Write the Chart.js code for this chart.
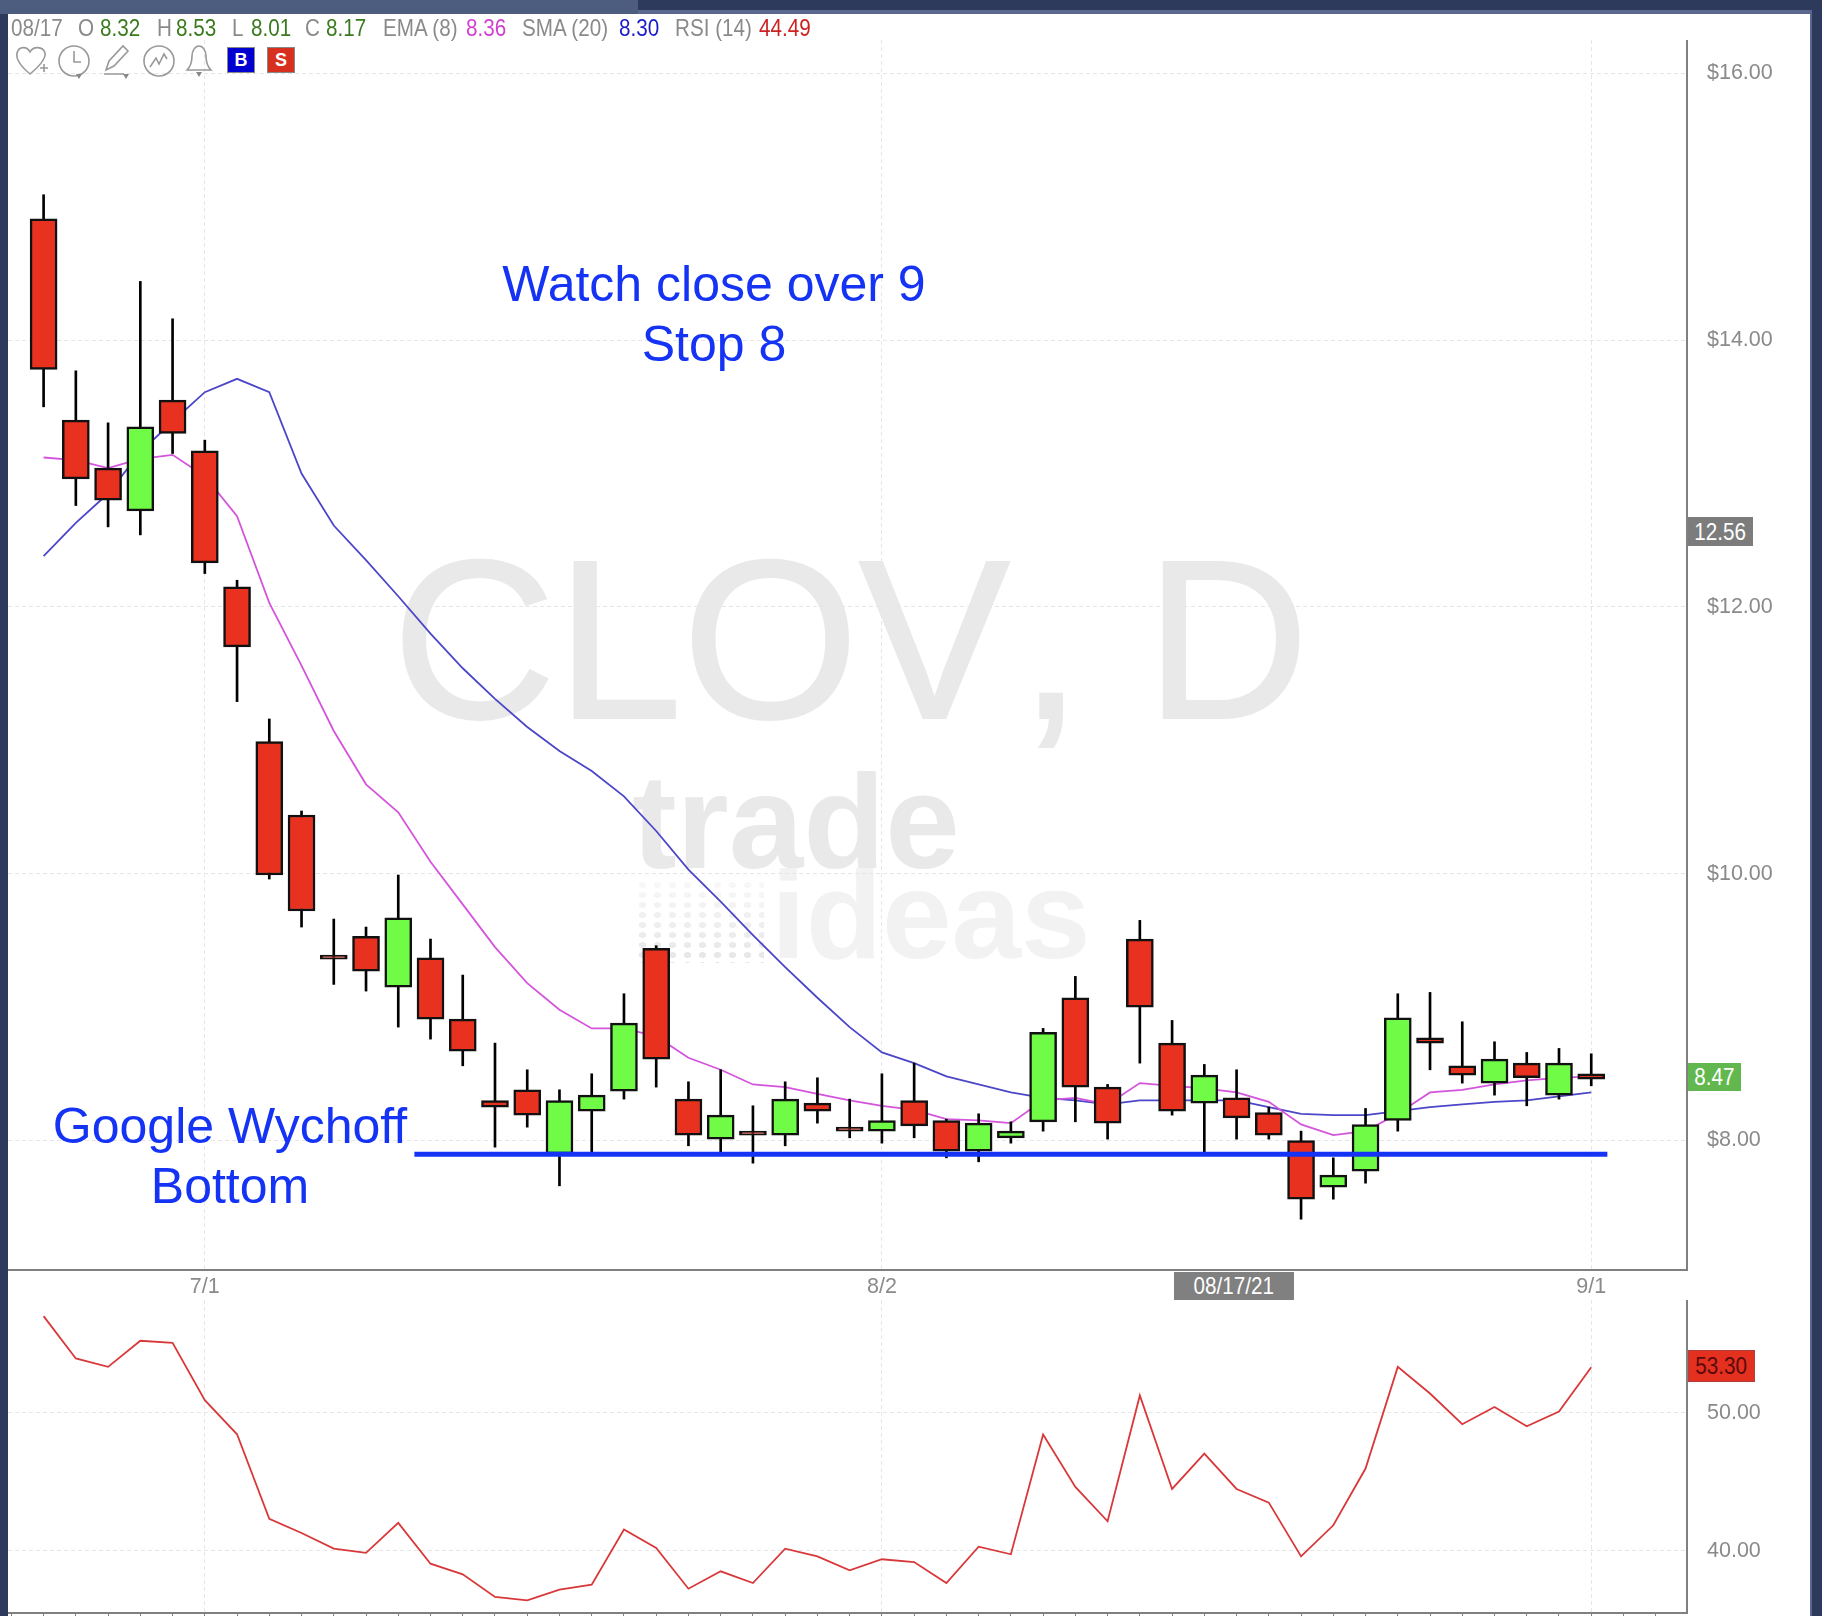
<!DOCTYPE html>
<html>
<head>
<meta charset="utf-8">
<title>CLOV, D</title>
<script src="https://cdn.jsdelivr.net/npm/chart.js@4/dist/chart.umd.js"></script>
<style>
  html, body { margin: 0; padding: 0; background: #fff; }
  #page { position: relative; width: 1822px; height: 1616px; overflow: hidden; background: #fff; font-family: "Liberation Sans", sans-serif; }
  #page canvas { position: absolute; left: 8px; }
  .strip { position: absolute; background: #2d3a5c; }
  .hdr { position: absolute; top: 13px; font-size: 24px; line-height: 30px; color: #8a8a8a; white-space: nowrap; transform: scaleX(.86); transform-origin: left center; }
  .note { position: absolute; font-size: 50px; line-height: 60px; color: #1433f5; text-align: center; white-space: nowrap; }
  .mark { position: absolute; white-space: nowrap; }
  .tag { position: absolute; text-align: center; color: #fff; box-sizing: border-box; }
  .tag span { display: inline-block; font-size: 24px; transform: scaleX(.86); }
  .btn { position: absolute; top: 47px; width: 28px; height: 26px; font: bold 18px/24px "Liberation Sans", sans-serif; color: #fff; text-align: center; box-sizing: border-box; border: 1px solid #888; }
  #icons { position: absolute; left: 14px; top: 44px; }
</style>
</head>
<body>
<div id="page">
  <div class="mark" style="left:392px;top:500px;font-size:227px;line-height:280px;color:#e9e9e9;-webkit-text-stroke:2px #e9e9e9">CLOV<span style="margin-left:9px">,</span> D</div>
  <div class="mark" style="left:632px;top:757px;font-size:134px;line-height:130px;font-weight:bold;color:#e9e9e9">trade</div>
  <div class="mark" style="left:771px;top:850px;font-size:125px;line-height:130px;font-weight:bold;color:#f2f2f2">ideas</div>
  <div class="mark" style="left:635px;top:880px;width:129px;height:83px;background-image:radial-gradient(ellipse 4px 3px,#e6e6e6 90%,transparent);background-size:15px 10px;-webkit-mask-image:linear-gradient(to bottom,rgba(0,0,0,.25),#000)"></div>

  <canvas id="priceChart" width="1804" height="1260" style="top:40px"></canvas>
  <canvas id="rsiChart" width="1804" height="316" style="top:1300px"></canvas>

  <div class="strip" style="left:0;top:0;width:8px;height:1616px"></div>
  <div class="strip" style="left:1812px;top:0;width:10px;height:1616px"></div>
  <div class="strip" style="left:1810px;top:10px;width:2px;height:1606px;background:#5a6890"></div>
  <div class="strip" style="left:0;top:0;width:1822px;height:10px"></div>
  <div class="strip" style="left:8px;top:10px;width:1804px;height:4px;background:#5a6890"></div>
  <div class="strip" style="left:0;top:0;width:638px;height:14px;background:#4d5d80"></div>

  <span class="hdr" style="left:11px">08/17</span>
  <span class="hdr" style="left:78px">O</span>
  <span class="hdr" style="left:100px;color:#3a7a1e">8.32</span>
  <span class="hdr" style="left:157px">H</span>
  <span class="hdr" style="left:176px;color:#3a7a1e">8.53</span>
  <span class="hdr" style="left:232px">L</span>
  <span class="hdr" style="left:251px;color:#3a7a1e">8.01</span>
  <span class="hdr" style="left:305px">C</span>
  <span class="hdr" style="left:326px;color:#3a7a1e">8.17</span>
  <span class="hdr" style="left:383px">EMA (8)</span>
  <span class="hdr" style="left:466px;color:#d13fd3">8.36</span>
  <span class="hdr" style="left:522px">SMA (20)</span>
  <span class="hdr" style="left:619px;color:#1a1ac8">8.30</span>
  <span class="hdr" style="left:675px">RSI (14)</span>
  <span class="hdr" style="left:759px;color:#cc2222">44.49</span>

  <svg id="icons" width="210" height="36" fill="none" stroke="#999" stroke-width="1.6">
    <path d="M16 30 C4 20 2 14 3 9 C5 2 13 2 16 8 C19 2 29 2 31 9 C32 14 28 20 16 30Z"/><path d="M26 24h8M30 20v8"/>
    <circle cx="60" cy="17" r="15"/><path d="M60 7v11h7"/>
    <path d="M92 26l3-9 14-15 5 5-14 15zM90 30h20"/>
    <circle cx="145" cy="17" r="15"/><path d="M136 23l6-9 3 6 5-10 3 5"/>
    <path d="M197 26h-24c4-4 5-9 5-14 0-5 3-10 7-10s7 5 7 10c0 5 1 10 5 14z"/>
    <path d="M62 30h6l-3 5zM109 30h6l-3 5zM182 28h6l-3 5z" fill="#888" stroke="none"/>
  </svg>
  <div class="btn" style="left:227px;background:#0000d0">B</div>
  <div class="btn" style="left:267px;background:#d8301f">S</div>

  <div class="note" style="left:464px;top:254px;width:500px">Watch close over 9<br>Stop 8</div>
  <div class="note" style="left:20px;top:1096px;width:420px">Google Wychoff<br>Bottom</div>

  <div class="tag" style="left:1688px;top:517px;width:65px;height:29px;line-height:29px;background:#7c7c7c"><span>12.56</span></div>
  <div class="tag" style="left:1688px;top:1063px;width:53px;height:28px;line-height:28px;background:#62b84f"><span>8.47</span></div>
  <div class="tag" style="left:1688px;top:1350px;width:67px;height:32px;line-height:30px;background:#e3301f;color:#5a0a0a;border:1px solid #b04040"><span>53.30</span></div>
  <div class="tag" style="left:1174px;top:1272px;width:120px;height:28px;line-height:28px;background:#808080"><span>08/17/21</span></div>
</div>

<script>
// CLOV daily
const opens  = [14.91,13.40,13.04,12.72,13.55,13.17,12.15,10.99,10.44,9.39,9.53,9.15,9.37,8.91,8.30,8.38,7.90,8.22,8.37,9.44,8.31,8.01,8.07,8.04,8.28,8.10,8.07,8.30,8.15,7.92,8.02,8.14,9.07,8.40,9.51,8.73,8.28,8.32,8.21,8.00,7.65,7.77,8.15,8.77,8.56,8.43,8.58,8.34,8.50];
const closes = [13.78,12.96,12.80,13.35,13.30,12.33,11.70,9.99,9.72,9.36,9.27,9.67,8.91,8.67,8.25,8.19,8.30,8.34,8.88,8.61,8.04,8.19,8.04,8.31,8.22,8.07,8.15,8.11,7.92,8.13,8.07,8.81,8.40,8.13,9.00,8.22,8.49,8.17,8.04,7.56,7.74,8.12,8.92,8.73,8.49,8.61,8.47,8.58,8.46];
const highs  = [15.09,13.77,13.38,14.44,14.16,13.25,12.20,11.16,10.47,9.66,9.60,9.99,9.51,9.24,8.73,8.53,8.38,8.50,9.10,9.46,8.44,8.53,8.26,8.44,8.47,8.31,8.50,8.58,8.16,8.20,8.14,8.84,9.23,8.42,9.65,8.90,8.57,8.53,8.25,8.07,7.87,8.24,9.10,9.11,8.89,8.74,8.66,8.69,8.65];
const lows   = [13.50,12.76,12.60,12.54,13.15,12.25,11.29,9.96,9.60,9.17,9.12,8.85,8.76,8.56,7.95,8.10,7.66,7.90,8.31,8.40,7.96,7.90,7.83,7.96,8.13,8.02,7.98,8.02,7.87,7.84,7.98,8.07,8.14,8.01,8.58,8.19,7.90,8.01,8.01,7.41,7.56,7.68,8.07,8.53,8.43,8.34,8.26,8.31,8.41];
const ema8   = [13.12,13.10,13.04,13.11,13.14,12.98,12.68,12.03,11.56,11.07,10.67,10.46,10.09,9.77,9.45,9.18,8.98,8.84,8.84,8.78,8.62,8.53,8.42,8.40,8.35,8.30,8.26,8.23,8.16,8.15,8.13,8.30,8.32,8.27,8.43,8.41,8.39,8.36,8.29,8.12,8.04,8.07,8.20,8.36,8.38,8.42,8.45,8.47,8.48];
const sma20  = [12.38,12.63,12.85,13.16,13.39,13.61,13.71,13.61,13.00,12.61,12.35,12.08,11.80,11.54,11.31,11.10,10.92,10.77,10.58,10.32,10.03,9.79,9.54,9.30,9.07,8.85,8.66,8.58,8.48,8.42,8.36,8.32,8.30,8.27,8.30,8.30,8.30,8.30,8.25,8.20,8.19,8.19,8.22,8.25,8.27,8.29,8.30,8.33,8.36];
const rsi14  = [57.00,53.94,53.33,55.22,55.07,50.92,48.45,42.32,41.30,40.17,39.86,42.03,39.08,38.31,36.67,36.43,37.20,37.56,41.55,40.22,37.27,38.53,37.68,40.17,39.61,38.60,39.40,39.20,37.68,40.31,39.76,48.43,44.64,42.15,51.26,44.49,47.05,44.49,43.50,39.61,41.86,45.97,53.33,51.40,49.18,50.43,49.03,50.10,53.30];

const priceTicks = [8, 10, 12, 14, 16];
const rsiTicks = [40, 50];
const dateTicks = { 5: '7/1', 26: '8/2', 48: '9/1' };
const supportLevel = 7.896;
const supportFrom = 11.5;
const supportTo = 48.5;

const RED = '#e8321f';
const GREEN = '#6ffb46';
const GRAY = '#808080';
const GRID = '#e6e6e6';
const TICK_FONT = { family: '"Liberation Sans", sans-serif', size: 21.5 };
const AXIS_W = 125;
const xMin = -1.104, xMax = 50.97;

const toPoints = (arr) => arr.map((v, i) => ({ x: i, y: v }));
const maLine = (data, color, order) => ({
  type: 'line', data: toPoints(data), borderColor: color, borderWidth: 1.8,
  pointRadius: 0, tension: 0, order: order
});

// fixed axis width, and no room kept above/below for the tick labels
const fitY = (s) => { s.width = AXIS_W; s.paddingTop = 0; s.paddingBottom = 0; };

const allIdx = opens.map((_, i) => i);
const xGridColor = (ctx) => (dateTicks[ctx.tick && ctx.tick.value] ? GRID : 'rgba(0,0,0,0)');

window.onload = function () {
  new Chart(document.getElementById('priceChart').getContext('2d'), {
    type: 'bar',
    data: {
      datasets: [
        {
          type: 'line',
          data: [{ x: supportFrom, y: supportLevel }, { x: supportTo, y: supportLevel }],
          borderColor: '#1433f5', borderWidth: 5, pointRadius: 0, order: 1
        },
        {
          data: allIdx.map((i) => ({ x: i, y: [opens[i], closes[i]] })),
          backgroundColor: allIdx.map((i) => (closes[i] > opens[i] ? GREEN : RED)),
          borderColor: '#111', borderWidth: 2.5, borderSkipped: false,
          barThickness: 27, grouped: false, order: 2
        },
        {
          data: allIdx.map((i) => ({ x: i, y: [lows[i], highs[i]] })),
          backgroundColor: '#000', barThickness: 2, grouped: false, order: 3
        },
        maLine(ema8, '#d455dc', 4),
        maLine(sma20, '#4c46c8', 5)
      ]
    },
    options: {
      responsive: false,
      animation: false,
      layout: { padding: 0, autoPadding: false },
      plugins: { legend: { display: false }, tooltip: { enabled: false } },
      scales: {
        x: {
          type: 'linear', min: xMin, max: xMax, offset: false,
          afterBuildTicks: (s) => { s.ticks = Object.keys(dateTicks).map((k) => ({ value: +k })); },
          afterFit: (s) => { s.height = 30; },
          ticks: {
            autoSkip: false, maxRotation: 0, padding: 4, color: '#8a8a8a', font: TICK_FONT,
            callback: (v) => dateTicks[v]
          },
          grid: { color: GRID, drawTicks: false, offset: false },
          border: { color: GRAY, width: 2, dash: [4, 3] }
        },
        y: {
          position: 'right', min: 7.029, max: 16.25,
          afterBuildTicks: (s) => { s.ticks = priceTicks.map((v) => ({ value: v })); },
          afterFit: fitY,
          ticks: { padding: 20, color: '#8a8a8a', font: TICK_FONT, callback: (v) => '$' + v.toFixed(2) },
          grid: { color: GRID, drawTicks: false },
          border: { color: GRAY, width: 2, dash: [4, 3] }
        }
      }
    }
  });

  new Chart(document.getElementById('rsiChart').getContext('2d'), {
    type: 'line',
    data: {
      datasets: [{
        data: toPoints(rsi14), borderColor: '#d9383a', borderWidth: 1.8, pointRadius: 0, tension: 0
      }]
    },
    options: {
      responsive: false,
      animation: false,
      layout: { padding: 0, autoPadding: false },
      plugins: { legend: { display: false }, tooltip: { enabled: false } },
      scales: {
        x: {
          type: 'linear', min: xMin, max: xMax,
          afterBuildTicks: (s) => {
            const t = [];
            for (let i = -1; i <= 50; i++) t.push({ value: i });
            s.ticks = t;
          },
          afterFit: (s) => { s.height = 3; },
          ticks: { display: false },
          grid: { color: xGridColor, tickColor: GRAY, tickLength: 3 },
          border: { color: GRAY, width: 2, dash: [4, 3] }
        },
        y: {
          position: 'right', min: 35.51, max: 58.17,
          afterBuildTicks: (s) => { s.ticks = rsiTicks.map((v) => ({ value: v })); },
          afterFit: fitY,
          ticks: { padding: 20, color: '#8a8a8a', font: TICK_FONT, callback: (v) => v.toFixed(2) },
          grid: { color: GRID, drawTicks: false },
          border: { color: GRAY, width: 2, dash: [4, 3] }
        }
      }
    }
  });
};
</script>
</body>
</html>
